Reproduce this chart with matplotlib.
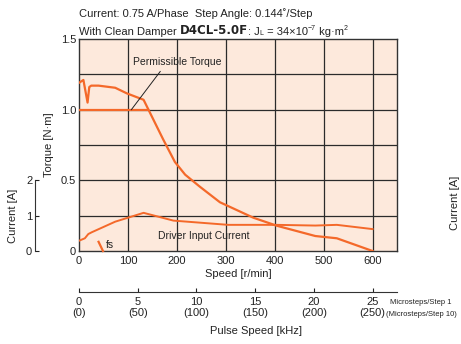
import matplotlib
matplotlib.use("Agg")
import matplotlib.pyplot as plt
from matplotlib import font_manager as fm

# ---------------- data ----------------
pullout_speed = [0, 9, 17.5, 21, 25, 40, 74, 98, 132, 142, 172, 196, 217, 247, 288, 356, 404, 483, 527, 600]
pullout_torque = [1.19, 1.21, 1.05, 1.16, 1.17, 1.17, 1.155, 1.115, 1.07, 1.0, 0.79, 0.63, 0.54, 0.455, 0.345, 0.236, 0.179, 0.106, 0.09, 0.0]

perm_speed = [0, 142]
perm_torque = [1.0, 1.0]

current_speed = [0, 12, 19, 26, 74, 132, 193, 305, 404, 483, 527, 600]
current_amp = [0.29, 0.36, 0.48, 0.53, 0.83, 1.08, 0.86, 0.74, 0.74, 0.72, 0.74, 0.62]

fs_speed = [40, 49]
fs_torque = [0.065, 0.0]

speed_ticks = [0, 100, 200, 300, 400, 500, 600]
torque_ticks = [0, 0.5, 1.0, 1.5]
torque_ticklabels = ["0", "0.5", "1.0", "1.5"]
current_ticks = [0, 1, 2]
pulse_ticks = [0, 5, 10, 15, 20, 25]
pulse_ticklabels = ["0\n(0)", "5\n(50)", "10\n(100)", "15\n(150)", "20\n(200)", "25\n(250)"]

# ---------------- style ----------------
avail = {f.name for f in fm.fontManager.ttflist}
narrow = "Liberation Sans Narrow" if "Liberation Sans Narrow" in avail else "Liberation Sans"
plt.rcParams["font.family"] = [narrow, "DejaVu Sans"]

ORANGE = "#f4692a"
BG = "#fde9dc"
GRID = "#2b2b2b"
TXT = "#222222"

W, H = 461, 344
fig = plt.figure(figsize=(W / 100, H / 100), dpi=100)

def fx(px):
    return px / W

def fy(py):
    return 1 - py / H

x0, x1 = 79, 397
y_top, y_bot = 39, 251
ax = fig.add_axes([fx(x0), fy(y_bot), fx(x1) - fx(x0), fy(y_top) - fy(y_bot)])
ax.set_facecolor(BG)
ax.set_xlim(0, 650)
ax.set_ylim(0, 1.5)

# grid
for v in [100, 200, 300, 400, 500, 600]:
    ax.axvline(v, color=GRID, lw=0.9, zorder=1)
for v in [0.25, 0.5, 0.75, 1.0, 1.25]:
    ax.axhline(v, color=GRID, lw=0.9, zorder=1)
for s in ax.spines.values():
    s.set_color("#333333")
    s.set_linewidth(1.0)

ax.set_xticks(speed_ticks)
ax.set_xticklabels([str(v) for v in speed_ticks])
ax.set_yticks(torque_ticks)
ax.set_yticklabels(torque_ticklabels)
ax.tick_params(axis="x", length=0, labelsize=8, colors=TXT, pad=3.5)
ax.tick_params(axis="y", length=0, labelsize=8, colors=TXT, pad=2)
ax.set_xlabel("Speed [r/min]", fontsize=8, color=TXT, labelpad=2)
ax.set_ylabel("Torque [N·m]", fontsize=8, color=TXT, labelpad=5)

# curves
ax.plot(pullout_speed, pullout_torque, color=ORANGE, lw=1.6, zorder=3, solid_joinstyle="round")
ax.plot(perm_speed, perm_torque, color=ORANGE, lw=1.6, zorder=3)
ax.plot(current_speed, [c * 0.25 for c in current_amp], color=ORANGE, lw=1.4, zorder=3)
ax.plot(fs_speed, fs_torque, color=ORANGE, lw=1.6, zorder=3, clip_on=False)

ax.text(200, 1.34, "Permissible Torque", fontsize=7.5, color=TXT, ha="center", va="center", zorder=4)
ax.plot([107, 166], [1.0, 1.27], color="#222222", lw=0.7, zorder=4)
ax.text(254, 0.105, "Driver Input Current", fontsize=7.5, color=TXT, ha="center", va="center", zorder=4)
ax.text(55, 0.045, "fs", fontsize=7.5, color=TXT, ha="left", va="center", zorder=4)

# current axis
axc = fig.add_axes([fx(35), fy(y_bot), 0.0001, fy(y_top) - fy(y_bot)])
axc.set_ylim(0, 6)
axc.patch.set_visible(False)
for k in ["top", "right", "bottom"]:
    axc.spines[k].set_visible(False)
axc.spines["left"].set_bounds(0, 2)
axc.spines["left"].set_color("#333333")
axc.set_xticks([])
axc.set_yticks(current_ticks)
axc.set_yticklabels([str(v) for v in current_ticks])
axc.tick_params(axis="y", direction="in", length=3, labelsize=8, colors=TXT, pad=2)
fig.text(fx(13), fy(216), "Current [A]", rotation=90, fontsize=8, color=TXT, ha="center", va="center")

# stray right label
fig.text(fx(455), fy(203), "Current [A]", rotation=90, fontsize=8, color=TXT, ha="center", va="center")

# pulse speed axis
axp = fig.add_axes([fx(x0), fy(291.7), fx(x1) - fx(x0), 0.0001])
axp.set_xlim(0, 650 / 24)
axp.patch.set_visible(False)
for k in ["top", "right", "left"]:
    axp.spines[k].set_visible(False)
axp.spines["bottom"].set_color("#333333")
axp.set_yticks([])
axp.set_xticks(pulse_ticks)
axp.set_xticklabels(pulse_ticklabels, linespacing=1.05)
axp.tick_params(axis="x", direction="in", length=3, labelsize=8, colors=TXT, pad=4)
fig.text(fx(256), fy(331), "Pulse Speed [kHz]", fontsize=8, color=TXT, ha="center", va="center")
fig.text(fx(390), fy(302), "Microsteps/Step 1", fontsize=5.5, color=TXT, ha="left", va="center")
fig.text(fx(386), fy(314), "(Microsteps/Step 10)", fontsize=5.5, color=TXT, ha="left", va="center")

# titles
fig.text(fx(79), fy(14), "Current: 0.75 A/Phase  Step Angle: 0.144˚/Step", fontsize=8, color=TXT, ha="left", va="center")
t1 = fig.text(fx(79), fy(37), "With Clean Damper ", fontsize=8, color=TXT, ha="left", va="bottom")
t2 = fig.text(0, 0, "D4CL-5.0F", fontsize=8.5, fontweight="bold", color=TXT, ha="left", va="bottom",
              family=["DejaVu Sans"], transform=t1.get_transform())
fig.canvas.draw()
r = fig.canvas.get_renderer()
def after(prev, s, **kw):
    bb = prev.get_window_extent(r)
    t = fig.text(bb.x1 / fig.dpi / fig.get_figwidth(), bb.y0 / fig.dpi / fig.get_figheight(), s,
                 ha="left", va="bottom", color=TXT, **kw)
    fig.canvas.draw()
    return t
t2.set_position((t1.get_window_extent(r).x1 / W, t1.get_window_extent(r).y0 / H))
fig.canvas.draw()
t3 = after(t2, ": J", fontsize=8)
t4 = after(t3, "L", fontsize=5)
t5 = after(t4, " = 34×10", fontsize=8)
bb5 = t5.get_window_extent(r)
t6 = fig.text(bb5.x1 / W, (bb5.y0 + 5) / H, "−7", fontsize=5, color=TXT, ha="left", va="bottom")
fig.canvas.draw()
t7 = after(t6, " kg·m", fontsize=8)
t7.set_y(bb5.y0 / H)
fig.canvas.draw()
bb7 = t7.get_window_extent(r)
fig.text(bb7.x1 / W, (bb5.y0 + 5) / H, "2", fontsize=5, color=TXT, ha="left", va="bottom")

fig.savefig("out.png", dpi=100)
